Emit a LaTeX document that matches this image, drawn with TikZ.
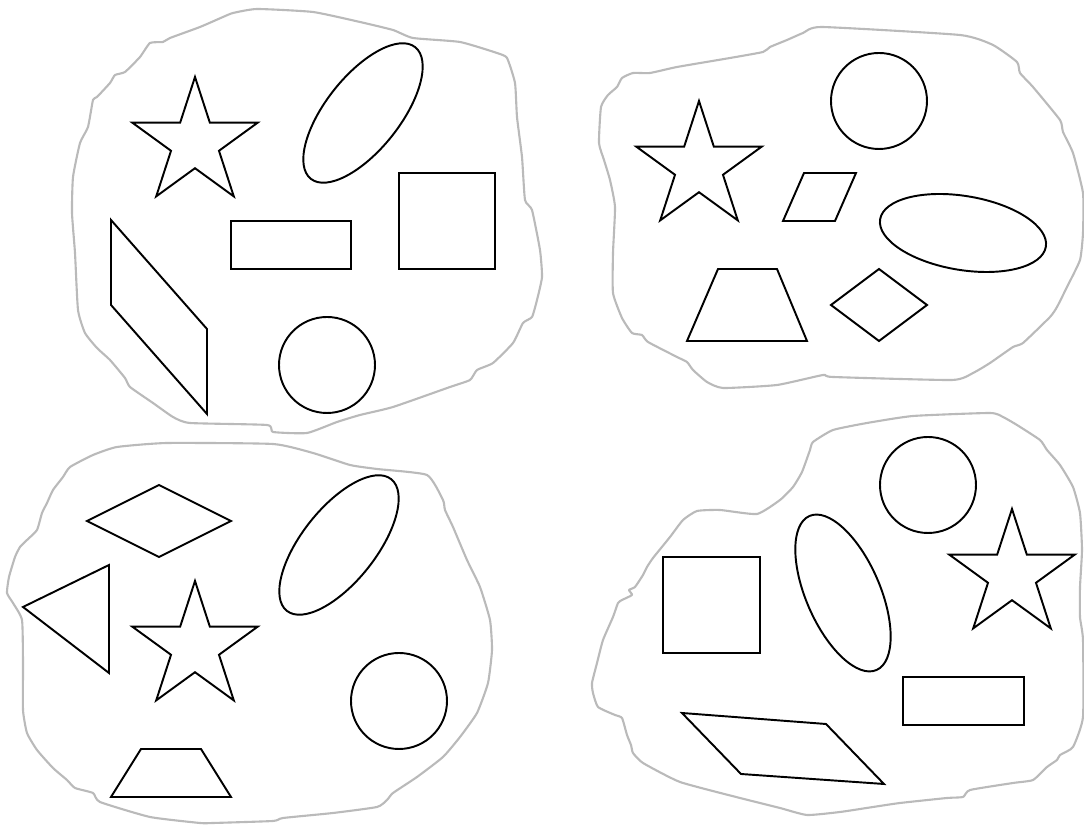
\documentclass[tikz,border=0pt]{standalone}
\usetikzlibrary{calc}
\newcommand{\mystarshape}[3]{%
  \draw[shp] (#1,#2) +(-90:#3) \foreach \k in {1,...,9}{ -- +({-90+36*\k}:{#3*(1-0.618*mod(\k,2))}) } -- cycle;}
\begin{document}
\begin{tikzpicture}[x=0.01cm,y=-0.01cm,
  shp/.style={draw=black,line width=0.55pt,line join=miter},
  blob/.style={draw=black!27,line width=0.6pt,line join=round}]
\useasboundingbox (0,0) rectangle (1084,825);
% ---------- blob outlines ----------
\draw[blob] plot[smooth cycle,tension=0.3] coordinates {(223,17) (233,13) (257,9) (313,12) (360,22) (393,30) (413,38) (460,42) (497,53) (507,58) (515,83) (517,117) (522,157) (525,200) (532,210) (540,250) (542,277) (537,300) (532,317) (523,323) (513,343) (493,363) (477,370) (470,380) (450,387) (393,407) (360,415) (337,422) (307,433) (273,432) (267,425) (190,423) (173,417) (153,403) (130,387) (125,378) (110,360) (97,348) (85,333) (78,310) (75,253) (72,213) (73,177) (80,143) (88,127) (93,100) (97,97) (110,83) (115,75) (125,72) (140,57) (150,43) (163,42) (170,38) (200,27)};
\draw[blob] plot[smooth cycle,tension=0.3] coordinates {(803,33) (822,27) (960,35) (993,45) (1017,62) (1020,73) (1033,87) (1060,120) (1063,132) (1073,153) (1083,193) (1083,233) (1080,260) (1067,287) (1057,307) (1050,317) (1023,343) (1013,347) (990,363) (973,373) (952,380) (833,377) (823,375) (777,385) (723,388) (707,382) (693,370) (687,362) (677,357) (648,342) (642,335) (632,333) (622,318) (613,293) (613,253) (615,207) (610,180) (604,160) (599,143) (601,107) (608,95) (617,87) (622,78) (633,73) (650,73) (677,67) (730,58) (763,52) (770,47) (787,40)};
\draw[blob] plot[smooth cycle,tension=0.3] coordinates {(117,447) (167,443) (273,444) (313,453) (350,465) (377,469) (427,475) (443,500) (445,510) (453,527) (467,560) (480,587) (490,620) (492,650) (488,683) (477,713) (460,737) (443,757) (417,777) (393,793) (387,800) (377,807) (333,813) (283,818) (273,821) (213,823) (200,823) (150,817) (100,802) (93,793) (75,788) (67,780) (53,768) (37,750) (27,733) (23,710) (23,663) (22,620) (13,603) (7,593) (9,577) (15,557) (20,547) (27,540) (37,530) (42,513) (47,503) (53,490) (63,477) (70,467) (93,455)};
\draw[blob] plot[smooth cycle,tension=0.3] coordinates {(990,413) (1003,417) (1017,425) (1040,440) (1047,450) (1060,465) (1073,487) (1080,513) (1082,550) (1080,587) (1080,617) (1083,640) (1083,717) (1073,747) (1060,755) (1057,760) (1047,767) (1033,780) (1013,783) (970,790) (963,797) (947,798) (900,803) (873,807) (840,812) (807,815) (780,808) (740,798) (680,782) (643,763) (633,753) (631,745) (627,735) (622,718) (615,715) (598,707) (593,693) (592,683) (597,663) (603,640) (613,617) (618,603) (622,600) (632,595) (629,590) (635,587) (643,575) (647,567) (653,558) (670,537) (683,520) (697,511) (720,510) (757,514) (780,500) (793,487) (802,472) (810,450) (813,442) (833,430) (867,423) (913,416)};
% ---------- blob 1 (top left) ----------
\mystarshape{195}{143}{66}
\draw[shp,rotate around={51.6:(363,113)}] (363,113) ellipse [x radius=84,y radius=37];
\draw[shp] (231,221) rectangle (351,269);
\draw[shp] (399,173) rectangle (495,269);
\draw[shp] (111,220) -- (207,329) -- (207,414) -- (111,305) -- cycle;
\draw[shp] (327,365) circle [radius=48];
% ---------- blob 2 (top right) ----------
\draw[shp] (879,101) circle [radius=48];
\mystarshape{699}{167}{66}
\draw[shp] (804,173) -- (856,173) -- (835,221) -- (783,221) -- cycle;
\draw[shp,rotate around={-9.4:(963,233)}] (963,233) ellipse [x radius=84,y radius=37];
\draw[shp] (879,269) -- (927,305) -- (879,341) -- (831,305) -- cycle;
\draw[shp] (718,269) -- (777,269) -- (807,341) -- (687,341) -- cycle;
% ---------- blob 3 (bottom left) ----------
\draw[shp] (159,485) -- (231,521) -- (159,557) -- (87,521) -- cycle;
\draw[shp] (109,565) -- (23,607) -- (109,673) -- cycle;
\mystarshape{195}{647}{66}
\draw[shp,rotate around={51.6:(339,545)}] (339,545) ellipse [x radius=84,y radius=37];
\draw[shp] (399,701) circle [radius=48];
\draw[shp] (141,749) -- (201,749) -- (231,797) -- (111,797) -- cycle;
% ---------- blob 4 (bottom right) ----------
\draw[shp] (928,485) circle [radius=48];
\mystarshape{1012}{575}{66}
\draw[shp] (663,557) rectangle (760,653);
\draw[shp,rotate around={-66.5:(843,593)}] (843,593) ellipse [x radius=84,y radius=37];
\draw[shp] (903,677) rectangle (1024,725);
\draw[shp] (682,713) -- (826,724) -- (884,784) -- (741,774) -- cycle;
\end{tikzpicture}
\end{document}
